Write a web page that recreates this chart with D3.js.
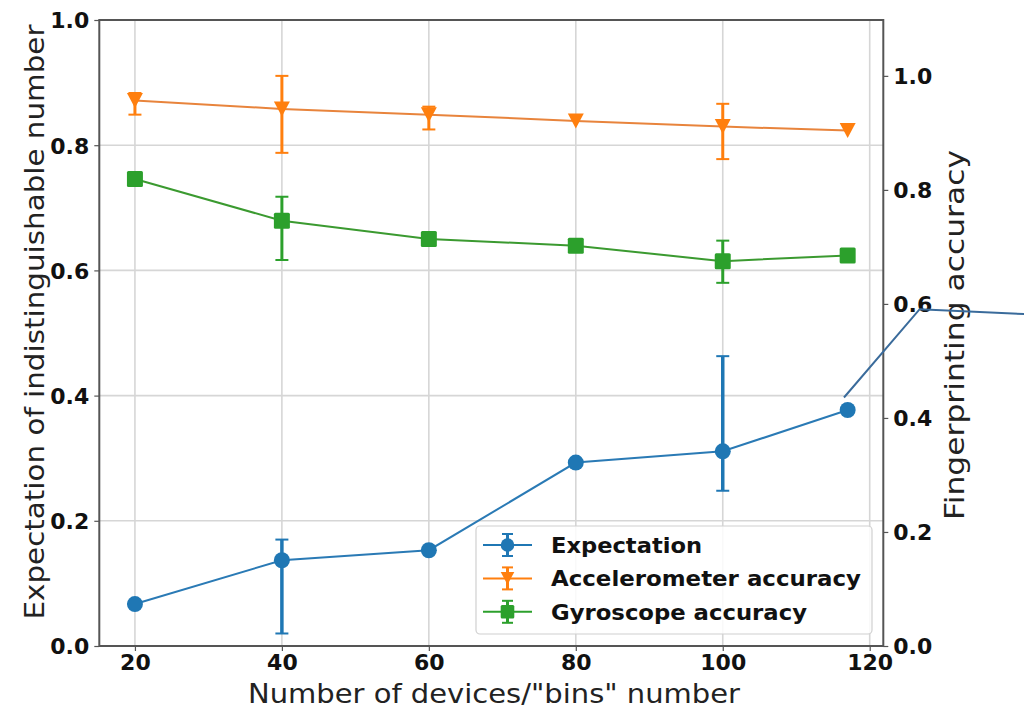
<!DOCTYPE html>
<html>
<head>
<meta charset="utf-8">
<script src="https://d3js.org/d3.v7.min.js"></script>
<style>
  html, body { margin: 0; padding: 0; background: #fff; }
  svg { display: block; }
  text { font-family: "DejaVu Sans", sans-serif; }
</style>
</head>
<body>
<svg id="chart" width="1024" height="714"></svg>
<script>
// ---------- data ----------
const xValues = [20, 40, 60, 80, 100, 117];
const xTicks = [20, 40, 60, 80, 100, 120];
const leftTicks = [0.0, 0.2, 0.4, 0.6, 0.8, 1.0];
const rightTicks = [0.0, 0.2, 0.4, 0.6, 0.8, 1.0];

const seriesNames = ["Expectation", "Accelerometer accuracy", "Gyroscope accuracy"];

// Expectation (left axis)
const expectation      = [0.067, 0.137, 0.153, 0.293, 0.311, 0.377];
const expectationPlus  = [0.000, 0.033, 0.000, 0.000, 0.152, 0.000];
const expectationMinus = [0.000, 0.117, 0.000, 0.000, 0.063, 0.000];

// Accelerometer accuracy (right axis)
const accelerometer      = [0.957, 0.942, 0.932, 0.921, 0.911, 0.904];
const accelerometerPlus  = [0.013, 0.058, 0.014, 0.000, 0.040, 0.000];
const accelerometerMinus = [0.025, 0.077, 0.026, 0.000, 0.057, 0.000];

// Gyroscope accuracy (right axis)
const gyroscope      = [0.819, 0.746, 0.714, 0.702, 0.675, 0.685];
const gyroscopePlus  = [0.000, 0.042, 0.000, 0.000, 0.036, 0.000];
const gyroscopeMinus = [0.000, 0.069, 0.000, 0.000, 0.038, 0.000];

// annotation callout line (x in data units, y in left-axis units)
const calloutX = [116.5, 126.8, 141.4];
const calloutY = [0.397, 0.538, 0.530];

// ---------- layout ----------
const plot = { left: 99.3, right: 883.3, top: 20, bottom: 646 };
const colors = { blue: "#1f77b4", orange: "#ff7f0e", green: "#2ca02c" };
const lineColors = { blue: "#2a7ab5", orange: "#e8843c", green: "#3b9a30" };

const svg = d3.select("#chart");

const x = d3.scaleLinear().domain([15.15, 121.85]).range([plot.left, plot.right]);
const yL = d3.scaleLinear().domain([0, 1]).range([plot.bottom, plot.top]);
const yR = d3.scaleLinear().domain([0, 1.098]).range([plot.bottom, plot.top]);

// grid
const grid = svg.append("g");
grid.selectAll("line.vg").data(xTicks).join("line")
  .attr("x1", d => x(d)).attr("x2", d => x(d))
  .attr("y1", plot.top).attr("y2", plot.bottom)
  .attr("stroke", "#d6d6d6").attr("stroke-width", 1.6);
grid.selectAll("line.hg").data(leftTicks).join("line")
  .attr("x1", plot.left).attr("x2", plot.right)
  .attr("y1", d => yL(d)).attr("y2", d => yL(d))
  .attr("stroke", "#d6d6d6").attr("stroke-width", 1.6);

// axes
const axisBottom = d3.axisBottom(x).tickValues(xTicks).tickFormat(d3.format("d")).tickSize(5).tickPadding(3);
const axisLeft = d3.axisLeft(yL).tickValues(leftTicks).tickFormat(d3.format(".1f")).tickSize(5).tickPadding(5);
const axisRight = d3.axisRight(yR).tickValues(rightTicks).tickFormat(d3.format(".1f")).tickSize(5).tickPadding(5);

function styleAxis(g) {
  g.select(".domain").remove();
  g.selectAll(".tick line").attr("stroke", "#555").attr("stroke-width", 1.2);
  g.selectAll(".tick text").attr("fill", "#111").attr("font-weight", "bold")
    .attr("font-family", "DejaVu Sans, sans-serif");
}
svg.append("g").attr("transform", `translate(0,${plot.bottom})`).call(axisBottom).call(styleAxis)
  .selectAll(".tick text").attr("font-size", 22);
svg.append("g").attr("transform", `translate(${plot.left},0)`).call(axisLeft).call(styleAxis)
  .selectAll(".tick text").attr("font-size", 22).attr("dy", "0.36em");
svg.append("g").attr("transform", `translate(${plot.right},0)`).call(axisRight).call(styleAxis)
  .selectAll(".tick text").attr("font-size", 22).attr("dy", "0.36em");

// frame
svg.append("rect")
  .attr("x", plot.left).attr("y", plot.top)
  .attr("width", plot.right - plot.left).attr("height", plot.bottom - plot.top)
  .attr("fill", "none").attr("stroke", "#555").attr("stroke-width", 2);

// axis labels
svg.append("text").text('Number of devices/"bins" number')
  .attr("x", 494).attr("y", 703).attr("text-anchor", "middle")
  .attr("font-size", 27).attr("fill", "#222")
  .attr("textLength", 492).attr("lengthAdjust", "spacingAndGlyphs");
svg.append("text").text("Expectation of indistinguishable number")
  .attr("transform", "translate(44,322) rotate(-90)").attr("text-anchor", "middle")
  .attr("font-size", 27).attr("fill", "#222")
  .attr("textLength", 595).attr("lengthAdjust", "spacingAndGlyphs");
svg.append("text").text("Fingerprinting accuracy")
  .attr("transform", "translate(964,335) rotate(-90)").attr("text-anchor", "middle")
  .attr("font-size", 27).attr("fill", "#222")
  .attr("textLength", 370).attr("lengthAdjust", "spacingAndGlyphs");

// ---------- series ----------
const series = [
  { name: seriesNames[0], vals: expectation, plus: expectationPlus, minus: expectationMinus, y: yL, color: colors.blue, lc: lineColors.blue, marker: "circle", ebw: 3.5 },
  { name: seriesNames[1], vals: accelerometer, plus: accelerometerPlus, minus: accelerometerMinus, y: yR, color: colors.orange, lc: lineColors.orange, marker: "tri", ebw: 3 },
  { name: seriesNames[2], vals: gyroscope, plus: gyroscopePlus, minus: gyroscopeMinus, y: yR, color: colors.green, lc: lineColors.green, marker: "square", ebw: 3 }
];

function drawMarker(g, type, cx, cy, color, s) {
  if (type === "circle") {
    g.append("circle").attr("cx", cx).attr("cy", cy).attr("r", 8 * s).attr("fill", color);
  } else if (type === "tri") {
    const w = 8 * s, h = 7.5 * s;
    g.append("path").attr("d", `M${cx - w},${cy - h} L${cx + w},${cy - h} L${cx},${cy + h} Z`).attr("fill", color);
  } else {
    const a = 8 * s;
    g.append("rect").attr("x", cx - a).attr("y", cy - a).attr("width", 2 * a).attr("height", 2 * a)
      .attr("rx", 1.5).attr("fill", color);
  }
}

const lineGen = d3.line();
series.forEach(sr => {
  const g = svg.append("g");
  const pts = xValues.map((xv, i) => [x(xv), sr.y(sr.vals[i])]);
  g.append("path").attr("d", lineGen(pts)).attr("fill", "none")
    .attr("stroke", sr.lc).attr("stroke-width", 2);
  xValues.forEach((xv, i) => {
    if (sr.plus[i] > 0 || sr.minus[i] > 0) {
      const cx = x(xv);
      const yt = sr.y(sr.vals[i] + sr.plus[i]);
      const yb = sr.y(sr.vals[i] - sr.minus[i]);
      g.append("line").attr("x1", cx).attr("x2", cx).attr("y1", yt).attr("y2", yb)
        .attr("stroke", sr.color).attr("stroke-width", sr.ebw);
      [yt, yb].forEach(yy => g.append("line").attr("x1", cx - 6.5).attr("x2", cx + 6.5)
        .attr("y1", yy).attr("y2", yy).attr("stroke", sr.color).attr("stroke-width", 2));
    }
  });
  pts.forEach(p => drawMarker(g, sr.marker, p[0], p[1], sr.color, 1));
});

// ---------- legend ----------
const lg = svg.append("g");
lg.append("rect").attr("x", 476).attr("y", 526).attr("width", 396).attr("height", 108)
  .attr("rx", 4).attr("fill", "rgba(255,255,255,0.85)").attr("stroke", "#d0d0d0").attr("stroke-width", 1.2);
const legendLengths = [151, 310, 256];
series.forEach((sr, i) => {
  const cy = 545 + i * 33.4;
  lg.append("line").attr("x1", 483).attr("x2", 532).attr("y1", cy).attr("y2", cy)
    .attr("stroke", sr.color).attr("stroke-width", 2);
  lg.append("line").attr("x1", 507.5).attr("x2", 507.5).attr("y1", cy - 11).attr("y2", cy + 11)
    .attr("stroke", sr.color).attr("stroke-width", 3);
  [cy - 11, cy + 11].forEach(yy => lg.append("line").attr("x1", 502).attr("x2", 513)
    .attr("y1", yy).attr("y2", yy).attr("stroke", sr.color).attr("stroke-width", 2));
  drawMarker(lg, sr.marker, 507.5, cy, sr.color, 0.85);
  lg.append("text").text(sr.name).attr("x", 551).attr("y", cy).attr("dy", "0.36em")
    .attr("font-size", 22).attr("font-weight", "bold").attr("fill", "#111")
    .attr("textLength", legendLengths[i]).attr("lengthAdjust", "spacingAndGlyphs");
});

// ---------- callout line ----------
svg.append("path")
  .attr("d", lineGen(calloutX.map((xv, i) => [x(xv), yL(calloutY[i])])))
  .attr("fill", "none").attr("stroke", "#3a6b9b").attr("stroke-width", 2);
</script>
</body>
</html>
